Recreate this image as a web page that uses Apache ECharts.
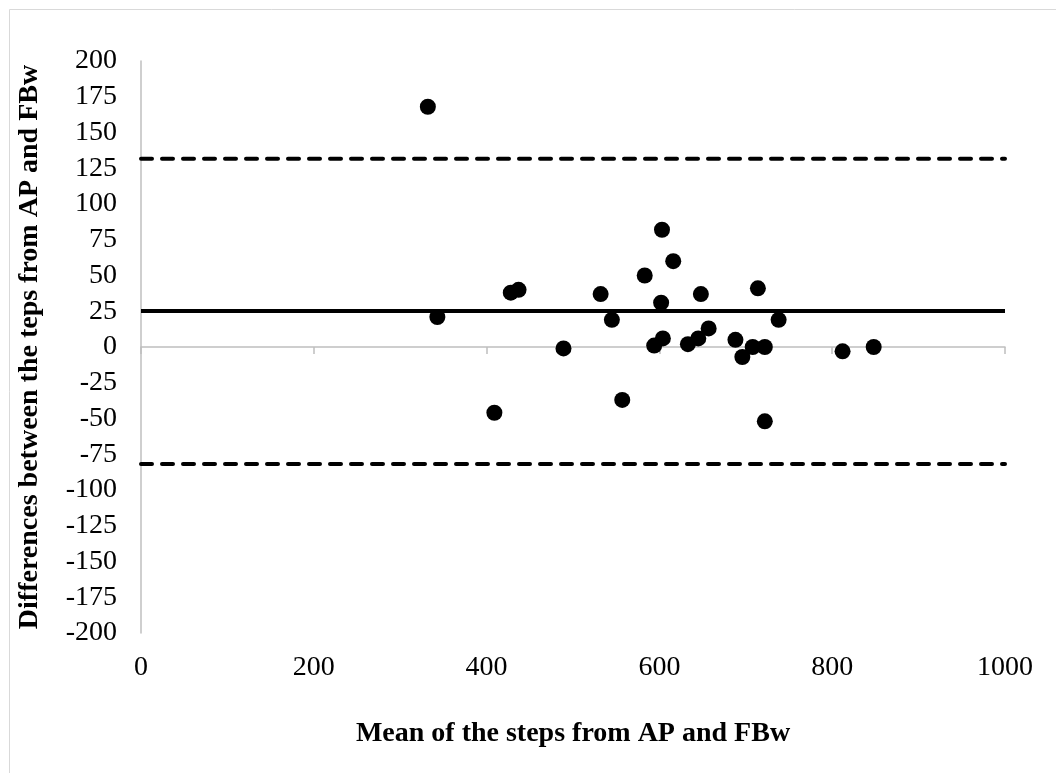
<!DOCTYPE html>
<html>
<head>
<meta charset="utf-8">
<script src="https://cdn.jsdelivr.net/npm/echarts@6/dist/echarts.min.js"></script>
<style>
html,body{margin:0;padding:0;background:#fff;}
#chart{width:1056px;height:773px;}
</style>
</head>
<body>
<div id="chart"></div>
<script>
// Mean of the steps (x) and differences (y)
const meanSteps = [332, 343, 409, 428, 437, 489, 532, 545, 557, 583, 594, 602, 603, 604, 616, 633, 645, 648, 657, 688, 696, 708, 714, 722, 722, 738, 812, 848];
const diffSteps = [168, 21, -46, 38, 40, -1, 37, 19, -37, 50, 1, 31, 82, 6, 60, 2, 6, 37, 13, 5, -7, 0, 41, 0, -52, 19, -3, 0];
const meanDiff = 25.2;
const upperLoA = 131.7;
const lowerLoA = -81.8;
const xRange = [0, 1000];
const xTitle = 'Mean of the steps from AP and FBw';
const yTitle = 'Differences between the teps from AP and FBw';

const font = 'Liberation Serif, Times New Roman, serif';
const chart = echarts.init(document.getElementById('chart'), null, {renderer: 'canvas'});
chart.setOption({
  animation: false,
  backgroundColor: '#fff',
  graphic: [{
    type: 'rect', left: 7, top: 7, silent: true,
    shape: {x: 0, y: 0, width: 1047, height: 764},
    style: {fill: 'none', stroke: '#d9d9d9', lineWidth: 1}
  }],
  grid: {left: 141, right: 51, top: 61, bottom: 140, containLabel: false},
  xAxis: {
    type: 'value', min: 0, max: 1000, interval: 200,
    name: xTitle, nameLocation: 'middle', nameGap: 87,
    nameTextStyle: {fontFamily: font, fontSize: 28, fontWeight: 'bold', color: '#000'},
    axisLine: {show: true, lineStyle: {color: '#bfbfbf', width: 1.5}},
    axisTick: {show: true, length: 7, lineStyle: {color: '#bfbfbf', width: 1.5}},
    axisLabel: {fontFamily: font, fontSize: 28, color: '#000', margin: 21, formatter: v => String(v)},
    splitLine: {show: false}
  },
  yAxis: {
    type: 'value', min: -200, max: 200, interval: 25,
    name: yTitle, nameLocation: 'middle', nameGap: 97, nameRotate: 90,
    nameTextStyle: {fontFamily: font, fontSize: 28, fontWeight: 'bold', color: '#000'},
    axisLine: {show: true, onZero: false, lineStyle: {color: '#bfbfbf', width: 1.5}},
    axisTick: {show: false},
    axisLabel: {fontFamily: font, fontSize: 28, color: '#000', margin: 24, formatter: v => String(v)},
    splitLine: {show: false}
  },
  series: [
    {
      type: 'line', data: [[xRange[0], upperLoA], [xRange[1], upperLoA]],
      symbol: 'none', lineStyle: {color: '#000', width: 4, type: [11, 10], cap: 'round'}, z: 2
    },
    {
      type: 'line', data: [[xRange[0], lowerLoA], [xRange[1], lowerLoA]],
      symbol: 'none', lineStyle: {color: '#000', width: 4, type: [11, 10], cap: 'round'}, z: 2
    },
    {
      type: 'line', data: [[xRange[0], meanDiff], [xRange[1], meanDiff]],
      symbol: 'none', lineStyle: {color: '#000', width: 4, type: 'solid'}, z: 2
    },
    {
      type: 'scatter', data: meanSteps.map((x, i) => [x, diffSteps[i]]),
      symbol: 'circle', symbolSize: 16, itemStyle: {color: '#000', opacity: 1}, z: 3
    }
  ]
});
</script>
</body>
</html>
